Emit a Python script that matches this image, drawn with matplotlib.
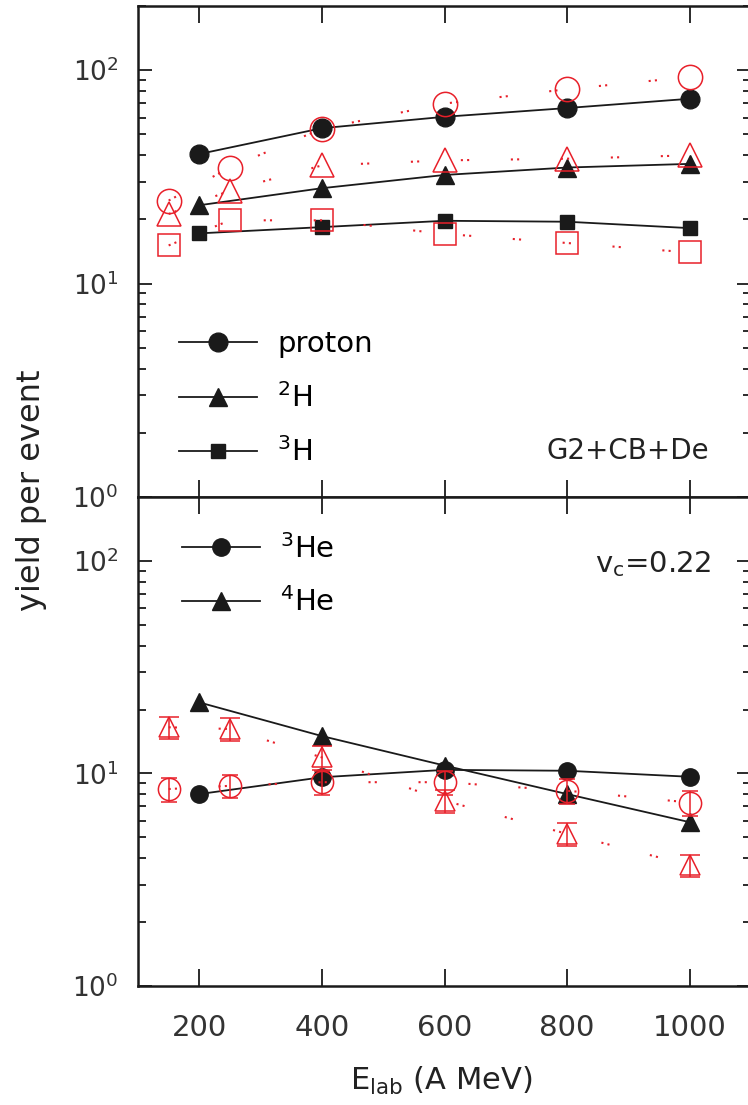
import numpy as np
import matplotlib.pyplot as plt

plt.rcParams['font.family'] = ['DejaVu Sans']
plt.rcParams['mathtext.default'] = 'regular'

# beam energies (A MeV)
e_data = [200, 400, 600, 800, 1000]
e_model = [150, 250, 400, 600, 800, 1000]

# hydrogen isotopes: measured yields and model
proton_data = [40.5, 53.5, 60.5, 66.5, 73.5]
h2_data = [23.3, 28.0, 32.3, 35.0, 36.4]
h3_data = [17.2, 18.4, 19.7, 19.5, 18.2]
proton_model = [24.5, 35.0, 53.2, 69.8, 81.5, 93.0]
h2_model = [21.2, 27.3, 35.8, 37.8, 38.5, 39.9]
h3_model = [15.1, 19.8, 19.8, 17.1, 15.5, 14.0]

# helium isotopes
he3_data = [8.0, 9.6, 10.4, 10.3, 9.65]
he4_data = [21.6, 15.0, 10.9, 8.0, 5.9]
he3_model = [8.45, 8.75, 9.1, 9.1, 8.3, 7.3]
he3_err = [1.1, 1.1, 1.2, 1.2, 1.1, 1.0]
he4_model = [16.5, 16.2, 11.9, 7.45, 5.2, 3.7]
he4_err = [2.0, 2.0, 1.5, 0.95, 0.65, 0.45]

red = '#e8202a'
blk = '#1a1a1a'
dots = (0, (1, 2, 1, 20))

fig = plt.figure(figsize=(7.48, 11.05), dpi=100)
ax1 = fig.add_axes([138/748, 1-497/1105, 613/748, 491/1105])
ax2 = fig.add_axes([138/748, 1-986/1105, 613/748, 489/1105])

# top panel: p, d, t
l1, = ax1.plot(e_data, proton_data, '-o', color=blk, lw=1.3, ms=13.5, label='proton')
l2, = ax1.plot(e_data, h2_data, '-^', color=blk, lw=1.3, ms=13, label='$^{2}$H')
l3, = ax1.plot(e_data, h3_data, '-s', color=blk, lw=1.3, ms=10, label='$^{3}$H')
ax1.plot(e_model, proton_model, marker='o', ls=dots, color=red, lw=1.5,
         ms=17.5, mfc='none', mew=1.1)
ax1.plot(e_model, h2_model, marker='^', ls=dots, color=red, lw=1.5,
         ms=17, mfc='none', mew=1.1)
ax1.plot(e_model, h3_model, marker='s', ls=dots, color=red, lw=1.5,
         ms=16, mfc='none', mew=1.1)

ax1.legend(handles=[l1, l2, l3], loc='center left', bbox_to_anchor=(0.067, 0.200),
           frameon=False, fontsize=21, handlelength=2.67, handletextpad=0.69,
           labelspacing=0.85, borderpad=0, borderaxespad=0)
ax1.text(0.931, 0.077, 'G2+CB+De', transform=ax1.transAxes, ha='right',
         va='baseline', fontsize=20, color='#222222')

# bottom panel: 3He, 4He
m1, = ax2.plot(e_data, he3_data, '-o', color=blk, lw=1.3, ms=12.5, label='$^{3}$He')
m2, = ax2.plot(e_data, he4_data, '-^', color=blk, lw=1.3, ms=13, label='$^{4}$He')
ax2.errorbar(e_model, he3_model, yerr=he3_err, marker='o', ls=dots, color=red,
             lw=1.5, ms=16, mfc='none', mew=1.1, elinewidth=1.1, capsize=6, capthick=1.1)
ax2.errorbar(e_model, he4_model, yerr=he4_err, marker='^', ls=dots, color=red,
             lw=1.5, ms=15, mfc='none', mew=1.1, elinewidth=1.1, capsize=7, capthick=1.1)

ax2.legend(handles=[m1, m2], loc='center left', bbox_to_anchor=(0.072, 0.840),
           frameon=False, fontsize=21, handlelength=2.67, handletextpad=0.69,
           labelspacing=0.8, borderpad=0, borderaxespad=0)
ax2.text(0.935, 0.847, 'v$_c$=0.22', transform=ax2.transAxes, ha='right',
         va='baseline', fontsize=21, color='#222222')

for ax in (ax1, ax2):
    ax.set_yscale('log')
    ax.set_ylim(1, 200)
    ax.set_xlim(100, 1100)
    ax.set_xticks([200, 400, 600, 800, 1000])
    ax.tick_params(which='both', direction='in', top=True, right=True,
                   width=1.3, colors=blk, labelcolor='#333333')
    ax.tick_params(axis='y', which='major', length=10, labelsize=19, pad=14)
    ax.tick_params(axis='y', which='minor', length=6)
    ax.tick_params(axis='x', which='major', length=12, labelsize=21, pad=20)
    for sp in ax.spines.values():
        sp.set_linewidth(1.8)
        sp.set_color(blk)

ax1.tick_params(axis='x', labelbottom=False)

fig.text(32/748, 1-490/1105, 'yield per event', rotation=90, ha='center',
         va='center', fontsize=23, color='#222222')
fig.text(441/748, 1-1090/1105, 'E$_{lab}$ (A MeV)', ha='center', va='baseline',
         fontsize=22, color='#222222')

fig.savefig('out.png', dpi=100)
